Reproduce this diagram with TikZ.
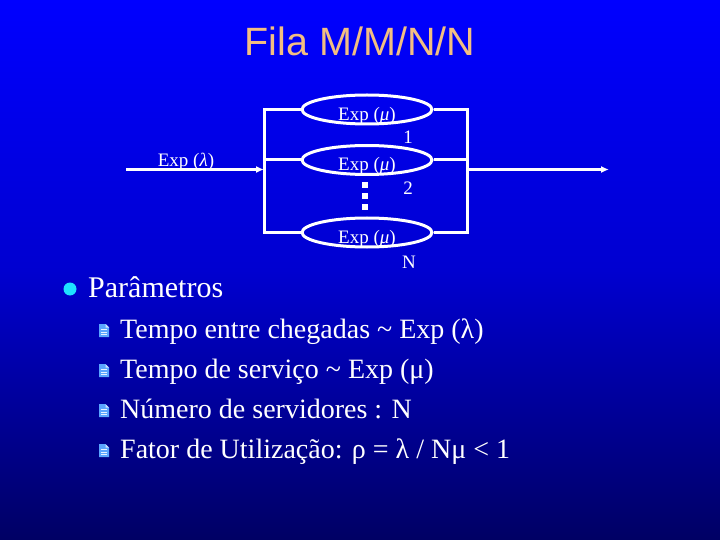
\documentclass[tikz,border=0pt]{standalone}
\usepackage{fontspec}
\setmainfont{Liberation Serif}
\newfontfamily\titlefont{Liberation Sans}
\usetikzlibrary{arrows.meta,shapes.geometric}
\definecolor{bgtop}{RGB}{0,0,255}
\definecolor{bgmid}{RGB}{0,0,208}
\definecolor{bgbot}{RGB}{0,0,100}
\definecolor{titlecol}{RGB}{242,190,130}
\definecolor{dotcyan}{RGB}{30,225,255}
\definecolor{iconblue}{RGB}{90,165,255}
\newcommand\docicon[2]{%
  \begin{scope}[shift={(#1,#2)}]
    \fill[iconblue] (0,0) -- (6.5,0) -- (10,3.5) -- (10,13) -- (0,13) -- cycle;
    \fill[white!70!iconblue] (6.5,0) -- (6.5,3.5) -- (10,3.5) -- cycle;
    \foreach \yy in {5.5,8,10.5} \draw[white!85!iconblue,line width=1pt] (2,\yy) -- (8,\yy);
  \end{scope}}
\tikzset{
  wire/.style={draw=white,line width=3pt},
  server/.style={ellipse,draw=white,line width=3pt,minimum width=130pt,minimum height=29pt,inner sep=0pt},
  dlabel/.style={text=white,font=\fontsize{19}{21}\selectfont,anchor=base,inner sep=0pt},
  lvlone/.style={text=white,font=\fontsize{30}{34}\selectfont,anchor=base west,inner sep=0pt},
  lvltwo/.style={text=white,font=\fontsize{28}{32}\selectfont,anchor=base west,inner sep=0pt},
  arr/.style={wire,-{Latex[length=8pt,width=7pt]}}
}
\begin{document}
\begin{tikzpicture}[x=1pt,y=-1pt]
\shade[top color=bgtop,bottom color=bgbot,middle color=bgmid] (0,0) rectangle (720,540);
\useasboundingbox (0,0) rectangle (720,540);
% title
\node[text=titlecol,font=\titlefont\fontsize{39.5}{44}\selectfont,anchor=base,inner sep=0pt] (title) at (360,56) {Fila M/M/N/N};
% servers
\node[server] (e1) at (367,109.5) {};
\node[server] (e2) at (367,160) {};
\node[server] (eN) at (367,232.5) {};
\node[dlabel] (t1) at (367,120.5) {Exp (\textit{μ})};
\node[dlabel] (t2) at (367,171) {Exp (\textit{μ})};
\node[dlabel] (tN) at (367,243.5) {Exp (\textit{μ})};
\node[dlabel] (n1) at (408,144) {1};
\node[dlabel] (n2) at (408,195) {2};
\node[dlabel] (nN) at (409,268) {N};
\node[dlabel] (lam) at (186,167) {Exp (\textit{λ})};
% frame
\coordinate (tl) at (264,109.5);
\coordinate (bl) at (264,232.5);
\coordinate (tr) at (467,109.5);
\coordinate (br) at (467,232.5);
\coordinate (lm) at (264,160);
\coordinate (rm) at (467,160);
\coordinate (inS) at (126,169.5);
\coordinate (inE) at (264,169.5);
\coordinate (outS) at (467,169.5);
\coordinate (outE) at (609,169.5);
\draw[wire,line cap=rect] (tl) -- (bl);
\draw[wire,line cap=rect] (tr) -- (br);
\draw[wire] (tl) -- (e1.west);
\draw[wire] (e1.east) -- (tr);
\draw[wire] (lm) -- (e2.west);
\draw[wire] (e2.east) -- (rm);
\draw[wire] (bl) -- (eN.west);
\draw[wire] (eN.east) -- (br);
\draw[arr] (inS) -- (inE);
\draw[arr] (outS) -- (outE);
% vertical dots
\foreach \yy in {185,196.5,207.5} \fill[white] (362,\yy-3) rectangle (368,\yy+3);
% bullets
\fill[dotcyan] (70,289) circle (6.5);
\node[lvlone] (p) at (88,297) {Parâmetros};
\docicon{99}{324}
\node[lvltwo] (b1) at (120,338) {Tempo entre chegadas {\char"7E} Exp (λ)};
\docicon{99}{364}
\node[lvltwo] (b2) at (120,378) {Tempo de serviço {\char"7E} Exp (μ)};
\docicon{99}{404}
\node[lvltwo] (b3) at (120,418) {Número de servidores : N};
\docicon{99}{444}
\node[lvltwo] (b4) at (120,458) {Fator de Utilização: ρ = λ / Nμ < 1};
\end{tikzpicture}
\end{document}
